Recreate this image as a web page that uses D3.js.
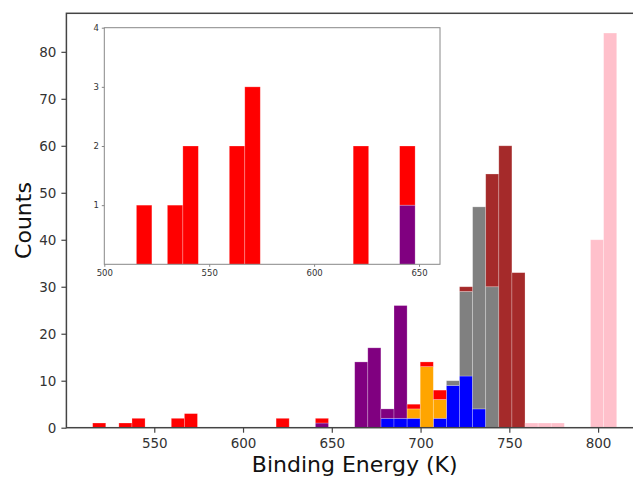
<!DOCTYPE html>
<html>
<head>
<meta charset="utf-8">
<script src="https://cdn.jsdelivr.net/npm/d3@7"></script>
<style>
  body { margin: 0; background: #fff; }
  text { font-family: "DejaVu Sans", Verdana, sans-serif; }
</style>
</head>
<body>
<div id="chart"></div>
<script>
// histogram bins (40 equal bins)
var binLo = 515.3, binHi = 810.5, nBins = 40;

// counts per bin, one array per colour (stack order bottom -> top)
var blue   = [0,0,0,0,0,0,0,0,0,0, 0,0,0,0,0,0,0,0,0,0, 0,0,2,2,2,0,2,9,11,4, 0,0,0,0,0,0,0,0,0,0];
var purple = [0,0,0,0,0,0,0,0,0,0, 0,0,0,0,0,0,0,1,0,0, 14,17,2,24,0,0,0,0,0,0, 0,0,0,0,0,0,0,0,0,0];
var orange = [0,0,0,0,0,0,0,0,0,0, 0,0,0,0,0,0,0,0,0,0, 0,0,0,0,2,13,4,0,0,0, 0,0,0,0,0,0,0,0,0,0];
var red    = [1,0,1,2,0,0,2,3,0,0, 0,0,0,0,2,0,0,1,0,0, 0,0,0,0,1,1,2,0,0,0, 0,0,0,0,0,0,0,0,0,0];
var gray   = [0,0,0,0,0,0,0,0,0,0, 0,0,0,0,0,0,0,0,0,0, 0,0,0,0,0,0,0,1,18,43, 30,0,0,0,0,0,0,0,0,0];
var brown  = [0,0,0,0,0,0,0,0,0,0, 0,0,0,0,0,0,0,0,0,0, 0,0,0,0,0,0,0,0,1,0, 24,60,33,0,0,0,0,0,0,0];
var pink   = [0,0,0,0,0,0,0,0,0,0, 0,0,0,0,0,0,0,0,0,0, 0,0,0,0,0,0,0,0,0,0, 0,0,0,1,1,1,0,0,40,84];

var seriesNames  = ['blue', 'purple', 'orange', 'red', 'gray', 'brown', 'pink'];
var seriesColors = ['#0000ff', '#800080', '#ffa500', '#ff0000', '#808080', '#a52a2a', '#ffc0cb'];
var seriesValues = [blue, purple, orange, red, gray, brown, pink];

var xTicks = [550, 600, 650, 700, 750, 800];
var yTicks = [0, 10, 20, 30, 40, 50, 60, 70, 80];
var insetXTicks = [500, 550, 600, 650];
var insetYTicks = [1, 2, 3, 4];

// build table for d3.stack
var binW = (binHi - binLo) / nBins;
var table = d3.range(nBins).map(function (i) {
  var row = { x0: binLo + i * binW, x1: binLo + (i + 1) * binW };
  seriesNames.forEach(function (s, k) { row[s] = seriesValues[k][i]; });
  return row;
});
var stacked = d3.stack().keys(seriesNames)(table);

var W = 633, H = 479;
var svg = d3.select("#chart").append("svg").attr("width", W).attr("height", H);

// ---------- main axes ----------
var x = d3.scaleLinear().domain([500.5, 825.3]).range([66.4, 643]);
var y = d3.scaleLinear().domain([0, 88.2]).range([427.7, 13.3]);

svg.append("clipPath").attr("id", "mainclip").append("rect")
  .attr("x", 66.4).attr("y", 13.3).attr("width", 643 - 66.4).attr("height", 427.7 - 13.3);

function drawBars(g, xs, ys) {
  g.selectAll("g.layer").data(stacked).enter().append("g")
    .attr("class", "layer")
    .attr("fill", function (d, k) { return seriesColors[k]; })
    .selectAll("rect")
    .data(function (d) { return d.filter(function (p) { return p[1] - p[0] > 0; }); })
    .enter().append("rect")
      .attr("x", function (p) { return xs(p.data.x0); })
      .attr("width", function (p) { return xs(p.data.x1) - xs(p.data.x0); })
      .attr("y", function (p) { return ys(p[1]); })
      .attr("height", function (p) { return ys(p[0]) - ys(p[1]); })
      .attr("stroke", "white").attr("stroke-opacity", 0.35).attr("stroke-width", 0.7);
}

drawBars(svg.append("g").attr("clip-path", "url(#mainclip)"), x, y);

var xAxis = svg.append("g").attr("transform", "translate(0,427.7)")
  .call(d3.axisBottom(x).tickValues(xTicks).tickSize(5).tickPadding(6).tickFormat(d3.format("d")));
var yAxis = svg.append("g").attr("transform", "translate(66.4,0)")
  .call(d3.axisLeft(y).tickValues(yTicks).tickSize(5).tickPadding(5).tickFormat(d3.format("d")));

[xAxis, yAxis].forEach(function (a) {
  a.select(".domain").remove();
  a.selectAll("line").attr("stroke", "#444").attr("stroke-width", 1.2);
  a.selectAll("text").attr("fill", "#333").style("font-size", "13.5px");
});

// frame
svg.append("rect").attr("x", 66.4).attr("y", 13.3)
  .attr("width", 643 - 66.4).attr("height", 427.7 - 13.3)
  .attr("fill", "none").attr("stroke", "#444").attr("stroke-width", 1.5);

svg.append("text").attr("x", (66.4 + 643) / 2).attr("y", 472)
  .attr("text-anchor", "middle").style("font-size", "22px").attr("fill", "#111")
  .text("Binding Energy (K)");
svg.append("text")
  .attr("transform", "translate(31," + (220.5) + ") rotate(-90)")
  .attr("text-anchor", "middle").style("font-size", "22px").attr("fill", "#111")
  .text("Counts");

// ---------- inset ----------
var ix = d3.scaleLinear().domain([500, 660]).range([104.3, 440]);
var iy = d3.scaleLinear().domain([0, 4]).range([264.3, 27.7]);

svg.append("rect").attr("x", 104.3).attr("y", 27.7)
  .attr("width", 440 - 104.3).attr("height", 264.3 - 27.7).attr("fill", "white");

svg.append("clipPath").attr("id", "insetclip").append("rect")
  .attr("x", 104.3).attr("y", 27.7).attr("width", 440 - 104.3).attr("height", 264.3 - 27.7);

// inset shows only the low-energy tail (red and purple)
var insetG = svg.append("g").attr("clip-path", "url(#insetclip)");
drawBars(insetG, ix, iy);

var ixAxis = svg.append("g").attr("transform", "translate(0,264.3)")
  .call(d3.axisBottom(ix).tickValues(insetXTicks).tickSize(2.5).tickPadding(3).tickFormat(d3.format("d")));
var iyAxis = svg.append("g").attr("transform", "translate(104.3,0)")
  .call(d3.axisLeft(iy).tickValues(insetYTicks).tickSize(2.5).tickPadding(3).tickFormat(d3.format("d")));
[ixAxis, iyAxis].forEach(function (a) {
  a.select(".domain").remove();
  a.selectAll("line").attr("stroke", "#666").attr("stroke-width", 0.8);
  a.selectAll("text").attr("fill", "#333").style("font-size", "8.5px");
});

svg.append("rect").attr("x", 104.3).attr("y", 27.7)
  .attr("width", 440 - 104.3).attr("height", 264.3 - 27.7)
  .attr("fill", "none").attr("stroke", "#888").attr("stroke-width", 1);
</script>
</body>
</html>
